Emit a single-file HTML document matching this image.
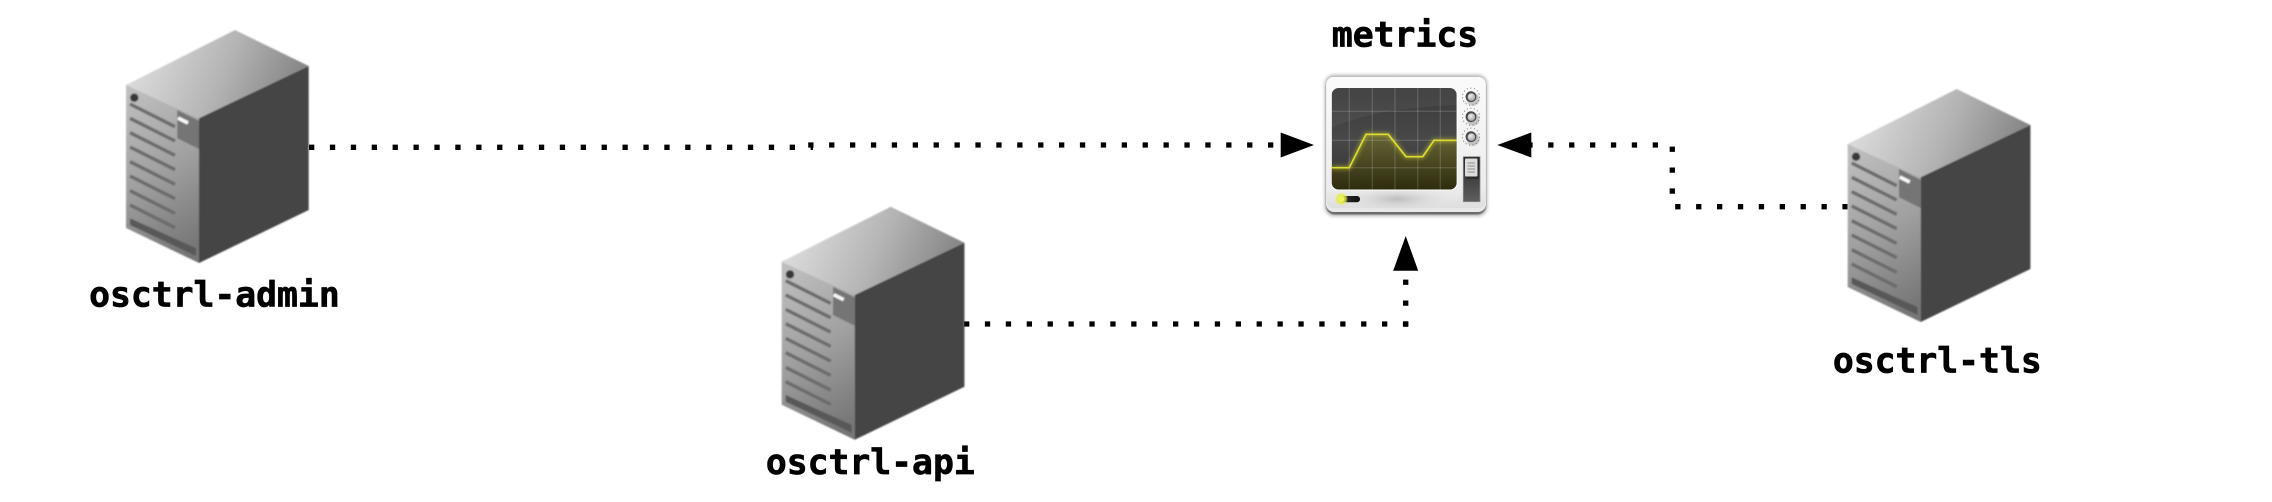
<!DOCTYPE html>
<html lang="en">
<head>
<meta charset="utf-8">
<title>osctrl metrics diagram</title>
<style>
html,body{margin:0;padding:0;background:#fff;width:2272px;height:502px;overflow:hidden}
svg{display:block}
.label{font-family:"DejaVu Sans Mono","Liberation Mono",monospace;font-weight:700;font-size:34.7px;fill:#000;stroke:#000;stroke-width:0.7px;text-anchor:middle}
.edge{fill:none;stroke:#000;stroke-width:5.3;stroke-dasharray:5.3 15.6}
</style>
</head>
<body>
<svg width="2272" height="502" viewBox="0 0 2272 502" xmlns="http://www.w3.org/2000/svg">
<defs>
  <linearGradient id="topFace" gradientUnits="userSpaceOnUse" x1="150" y1="50" x2="290" y2="110">
    <stop offset="0" stop-color="#d8d8d8"/><stop offset="0.5" stop-color="#b4b4b4"/><stop offset="1" stop-color="#848484"/>
  </linearGradient>
  <linearGradient id="leftFace" gradientUnits="userSpaceOnUse" x1="120" y1="100" x2="205" y2="240">
    <stop offset="0" stop-color="#bebebe"/><stop offset="0.5" stop-color="#a0a0a0"/><stop offset="1" stop-color="#767676"/>
  </linearGradient>
  <filter id="soft" x="-5%" y="-5%" width="110%" height="110%"><feGaussianBlur stdDeviation="0.85"/></filter>
  <filter id="softer" x="-20%" y="-20%" width="140%" height="140%"><feGaussianBlur stdDeviation="0.6"/></filter>
  <filter id="glow" x="-20%" y="-30%" width="140%" height="160%"><feGaussianBlur stdDeviation="2.2"/></filter>
  <filter id="shadow" x="-10%" y="-10%" width="120%" height="120%"><feGaussianBlur stdDeviation="1.8"/></filter>
  <linearGradient id="bodyGrad" x1="0" y1="0" x2="0" y2="1">
    <stop offset="0" stop-color="#fbfbfb"/><stop offset="0.85" stop-color="#ececec"/><stop offset="1" stop-color="#dedede"/>
  </linearGradient>
  <linearGradient id="screenGrad" x1="0" y1="0" x2="0" y2="1">
    <stop offset="0" stop-color="#3a3a3a"/><stop offset="0.5" stop-color="#484848"/><stop offset="1" stop-color="#333"/>
  </linearGradient>
  <linearGradient id="traceFill" x1="0" y1="0" x2="0" y2="1">
    <stop offset="0" stop-color="#676537"/><stop offset="1" stop-color="#2e2c0e"/>
  </linearGradient>
  <linearGradient id="slotGrad" x1="0" y1="0" x2="0" y2="1">
    <stop offset="0" stop-color="#262626"/><stop offset="1" stop-color="#5e5e5e"/>
  </linearGradient>
  <linearGradient id="pillGrad" x1="0" y1="0" x2="1" y2="0">
    <stop offset="0" stop-color="#8a8a6a"/><stop offset="0.5" stop-color="#222"/><stop offset="1" stop-color="#111"/>
  </linearGradient>
  <radialGradient id="shine" cx="0.5" cy="0.5" r="0.5">
    <stop offset="0" stop-color="#bdbdbd"/><stop offset="1" stop-color="#ececec" stop-opacity="0"/>
  </radialGradient>
  <radialGradient id="knobGrad" cx="0.4" cy="0.35" r="0.7">
    <stop offset="0" stop-color="#eeeeee"/><stop offset="1" stop-color="#a0a0a0"/>
  </radialGradient>
  <g id="server" filter="url(#soft)">
    <polygon points="126,85 235,30 308.7,66 199,118.3" fill="url(#topFace)"/>
    <polygon points="126,85 199,118.3 199,263 126,228" fill="url(#leftFace)"/>
    <polygon points="199,118.3 308.7,66 308.7,210 199,263" fill="#444445"/>
    <circle cx="134.3" cy="97.7" r="4.2" fill="#383838"/>
    <g stroke="#6c6c6c" stroke-width="3.4" fill="none">
      <path d="M130,104 L175,126.7"/><path d="M130,118.3 L175,141"/><path d="M130,132.7 L175,155.4"/><path d="M130,147 L175,169.7"/>
      <path d="M130,161.7 L175,184.4"/><path d="M130,176 L175,198.7"/><path d="M130,190.7 L175,213.4"/><path d="M130,205 L175,227.7"/>
    </g>
    <polygon points="130,218.3 196,248.3 196,256 130,225" fill="#585858"/>
    <polygon points="177.3,110 199,120.7 199,149 177.3,138.3" fill="#747474"/>
    <path d="M178,118 L188,123" stroke="#f8f8f8" stroke-width="3.6"/>
  </g>
  <g id="knob">
    <circle cx="2" cy="2.5" r="6.5" fill="#999" opacity="0.55" filter="url(#softer)"/>
    <circle r="8.6" fill="none" stroke="#777" stroke-width="1" stroke-dasharray="1 2.6"/>
    <circle r="5.4" fill="#484848"/>
    <circle cx="0.4" cy="0.4" r="3.8" fill="url(#knobGrad)"/>
  </g>
</defs>

<g>
  <path class="edge" d="M309,147.3 H813"/>
  <path class="edge" d="M808.2,145 H1285"/>
  <path class="edge" d="M964,324 H1408.4"/>
  <path class="edge" d="M1405.7,326.7 V275"/>
  <path class="edge" d="M1847.7,206.7 H1672"/>
  <path class="edge" d="M1672.3,193.7 V146"/>
  <path class="edge" d="M1658,145 H1525"/>
</g>

<polygon points="1314,145 1280.7,132.5 1280.7,157.5" fill="#000"/>
<polygon points="1405.7,236 1393.2,270.7 1418.2,270.7" fill="#000"/>
<polygon points="1497.3,145 1531.3,132.5 1531.3,157.5" fill="#000"/>

<use href="#server"/>
<use href="#server" x="655.7" y="176.7"/>
<use href="#server" x="1721.7" y="59"/>

<g>
  <rect x="1325" y="75" width="162" height="141" rx="9" fill="#b0b0b0" filter="url(#shadow)"/>
  <rect x="1326" y="78" width="160" height="136.5" rx="9" fill="#6a6a6a" filter="url(#softer)"/>
  <rect x="1326" y="77" width="160" height="135" rx="8" fill="#e8e8e8"/>
  <rect x="1326.5" y="77" width="159" height="131" rx="7" fill="url(#bodyGrad)"/>
  <ellipse cx="1397" cy="199" rx="62" ry="14" fill="url(#shine)"/>
  <clipPath id="screenClip"><rect x="1331.7" y="88" width="125" height="101.5" rx="7"/></clipPath>
  <rect x="1331" y="87.5" width="126.5" height="103" rx="7.5" fill="#fff"/>
  <g clip-path="url(#screenClip)">
    <rect x="1331.7" y="88" width="125" height="101.5" fill="url(#screenGrad)"/>
    <path d="M1331.7,88 H1456.7 V105 C1420,107 1370,110 1331.7,128 Z" fill="#fff" opacity="0.05"/>
    <polygon points="1331.7,167.7 1349.3,167.7 1366,134.3 1388.3,134.3 1406,156.7 1422.7,156.7 1434,140.3 1456.7,140.3 1456.7,189.5 1331.7,189.5" fill="url(#traceFill)"/>
    <g stroke="#fff" stroke-opacity="0.14" stroke-width="1.4" fill="none">
      <path d="M1349.3,88V190"/><path d="M1372.3,88V190"/><path d="M1395,88V190"/><path d="M1417.7,88V190"/><path d="M1440.3,88V190"/>
      <path d="M1331,111.3H1457"/><path d="M1331,140.3H1457"/><path d="M1331,167.7H1457"/>
    </g>
    <polyline points="1331.7,167.7 1349.3,167.7 1366,134.3 1388.3,134.3 1406,156.7 1422.7,156.7 1434,140.3 1456.7,140.3" fill="none" stroke="#e6e632" stroke-width="3.2" opacity="0.55" filter="url(#glow)"/>
    <polyline points="1331.7,167.7 1349.3,167.7 1366,134.3 1388.3,134.3 1406,156.7 1422.7,156.7 1434,140.3 1456.7,140.3" fill="none" stroke="#dcdc32" stroke-width="1.7"/>
  </g>
  <use href="#knob" x="1471" y="96.7"/>
  <use href="#knob" x="1471" y="116.7"/>
  <use href="#knob" x="1471" y="136.7"/>
  <rect x="1463.3" y="156.7" width="16.7" height="45" fill="url(#slotGrad)" stroke="#8a8a8a" stroke-width="0.8"/>
  <rect x="1466" y="160" width="13" height="19" fill="#000" opacity="0.35" filter="url(#softer)"/>
  <rect x="1465" y="158.5" width="12.5" height="18" rx="1" fill="#dcdcdc"/>
  <g stroke="#888" stroke-width="0.9">
    <path d="M1467.5,163H1475"/><path d="M1467.5,166H1475"/><path d="M1467.5,169H1475"/><path d="M1467.5,172H1475"/>
  </g>
  <rect x="1338" y="196" width="22" height="6.2" rx="3" fill="url(#pillGrad)"/>
  <circle cx="1341.3" cy="199" r="5.6" fill="#e4ee30" opacity="0.75" filter="url(#softer)"/>
  <circle cx="1341.3" cy="199" r="3.2" fill="#eef25a"/>
</g>

<text class="label" x="214.4" y="306.5">osctrl-admin</text>
<text class="label" x="870.3" y="473.8">osctrl-api</text>
<text class="label" x="1405" y="46.7">metrics</text>
<text class="label" x="1937.3" y="372.7">osctrl-tls</text>
</svg>
</body>
</html>
